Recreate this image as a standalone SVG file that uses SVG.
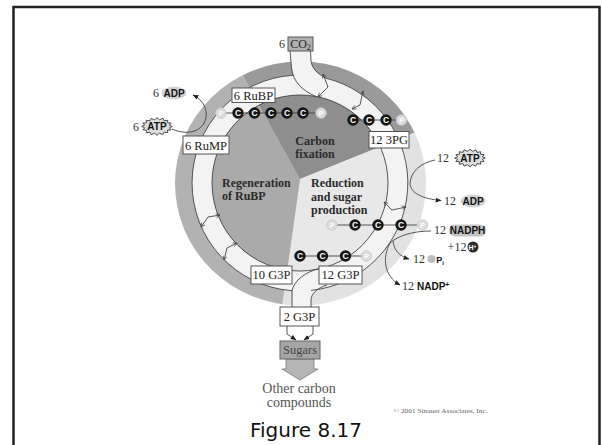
<svg xmlns="http://www.w3.org/2000/svg" xmlns:xlink="http://www.w3.org/1999/xlink" width="602" height="445" viewBox="0 0 602 445">
<style>
.box{fill:#fff;stroke:#555;stroke-width:1}
.bt{font-family:"Liberation Serif",serif;font-size:12.5px;fill:#222;text-anchor:middle}
.lab{font-family:"Liberation Serif",serif;font-weight:bold;font-size:12px;fill:#2a2a2a}
.num{font-family:"Liberation Serif",serif;font-size:12px;fill:#333;text-anchor:middle}
.chem{font-family:"Liberation Sans",sans-serif;font-weight:bold;font-size:10px;fill:#111;text-anchor:middle}
.ln{fill:none;stroke:#444;stroke-width:0.9}
.ct{font-family:"Liberation Sans",sans-serif;font-weight:bold;font-size:8.5px;fill:#fff;text-anchor:middle}
.pt{font-family:"Liberation Sans",sans-serif;font-weight:bold;font-size:7px;fill:#fff;text-anchor:middle}
</style>
<defs>
<clipPath id="outerClip"><ellipse cx="300.5" cy="183.5" rx="125.5" ry="122"/></clipPath>
<clipPath id="innerClip"><circle cx="300" cy="183" r="88"/></clipPath>
<marker id="ah" viewBox="0 0 10 10" refX="9" refY="5" markerUnits="userSpaceOnUse" markerWidth="6" markerHeight="6" orient="auto"><path d="M0,1 L10,5 L0,9 Z" fill="#222"/></marker>
<marker id="tk" viewBox="0 0 10 10" refX="9" refY="5" markerUnits="userSpaceOnUse" markerWidth="5" markerHeight="5" orient="auto-start-reverse"><path d="M1,1 L9,5 L1,9" fill="none" stroke="#444" stroke-width="1.5"/></marker>
<polygon id="star" points="17,0 13.73,1.66 15.71,4.21 11.64,4.72 12.02,7.78 7.78,7.07 6.51,10.16 2.73,8.34 0,11 -2.73,8.34 -6.51,10.16 -7.78,7.07 -12.02,7.78 -11.64,4.72 -15.71,4.21 -13.73,1.66 -17,0 -13.73,-1.66 -15.71,-4.21 -11.64,-4.72 -12.02,-7.78 -7.78,-7.07 -6.51,-10.16 -2.73,-8.34 0,-11 2.73,-8.34 6.51,-10.16 7.78,-7.07 12.02,-7.78 11.64,-4.72 15.71,-4.21 13.73,-1.66" fill="#dedede" stroke="#333" stroke-width="1"/>
<g id="cdot"><circle r="5.7" fill="#151515"/><text class="ct" y="3">C</text></g>
<g id="pdot"><circle r="5.3" fill="#dcdcdc" stroke="#c8c8c8" stroke-width="0.8"/><text class="pt" y="2.5">P</text></g>
</defs>

<rect x="13.5" y="7" width="586" height="445" fill="#fff" stroke="#222" stroke-width="2.5"/>

<g id="cycle-background">
  <g clip-path="url(#outerClip)">
    <path d="M300,179 L174,-48.4 L300,-81 L430,-46.2 L541.1,81.6 Z" fill="#9a9a9a"/>
    <path d="M300,179 L541.1,81.6 L560,179 L483.8,362.8 L300,439 L263.8,436.5 Z" fill="#e2e2e2"/>
    <path d="M300,179 L263.8,436.5 L116.2,362.8 L40,179 L74.8,49 L174,-48.4 Z" fill="#b2b2b2"/>
  </g>
  <path d="M192,183 a108,108 0 1,0 216,0 a108,108 0 1,0 -216,0 Z M212,183 a88,88 0 1,0 176,0 a88,88 0 1,0 -176,0 Z" fill="#f3f3f3" fill-rule="evenodd"/>
  <g clip-path="url(#innerClip)">
    <path d="M300,179 L174,-48.4 L300,-81 L430,-46.2 L541.1,81.6 Z" fill="#8e8e8e"/>
    <path d="M300,179 L541.1,81.6 L560,179 L483.8,362.8 L300,439 L263.8,436.5 Z" fill="#e8e8e8"/>
    <path d="M300,179 L263.8,436.5 L116.2,362.8 L40,179 L74.8,49 L174,-48.4 Z" fill="#aaaaaa"/>
  </g>
  <path d="M290,50 L311,50 L311,61 C312,69 318,74 326,78.2 L293.5,75.2 L291.5,68 Z" fill="#f3f3f3"/>
  <path d="M292,291 C294,280 306,272 319,268.5 L327,285 C317,288 311,294 311,300 L311,308 L292,308 Z" fill="#f3f3f3"/>
</g>

<g id="sector-labels">
  <text class="lab" x="315" y="144.5" style="text-anchor:middle">Carbon</text>
  <text class="lab" x="315" y="157.5" style="text-anchor:middle">fixation</text>
  <text class="lab" x="222" y="187">Regeneration</text>
  <text class="lab" x="222" y="200">of RuBP</text>
  <text class="lab" x="311" y="187">Reduction</text>
  <text class="lab" x="311" y="200.5">and sugar</text>
  <text class="lab" x="311" y="213.5">production</text>
</g>

<g id="connectors">
  <circle class="ln" cx="300" cy="183" r="88"/>
  <path class="ln" d="M326,78.2 A108,108 0 0,1 311,290.4"/>
  <path class="ln" d="M292,290.7 A108,108 0 0,1 293.5,75.2"/>
  <path class="ln" d="M290,51 L291.5,68 C293,82 303,91 316,96.5"/>
  <path class="ln" d="M310.5,51 L311,61 C312,69 318,74 326,78.2"/>
  <path class="ln" d="M319,268.5 C306,272 294,280 292,291 L292,308"/>
  <path class="ln" d="M327,285 C317,288 311,294 311,300 L311,308"/>
  <path class="ln" d="M323,74 L328,87 L318,97" marker-start="url(#tk)" marker-end="url(#tk)"/>
  <path class="ln" d="M363,91 L360,105 L352,109" marker-start="url(#tk)" marker-end="url(#tk)"/>
  <path class="ln" d="M384,202 L392,210 L406,207" marker-start="url(#tk)" marker-end="url(#tk)"/>
  <path class="ln" d="M201,227 L208,217 L220,215" marker-start="url(#tk)" marker-end="url(#tk)"/>
  <path class="ln" d="M224,260 L227,248 L237,243" marker-start="url(#tk)" marker-end="url(#tk)"/>
  <path class="ln" d="M172,129 C186,135 200,133 205,121 C209,110 203,100 193,95" marker-end="url(#ah)"/>
  <path class="ln" d="M435,160 C420,163 411,172 410,183 C410,193 423,199 441,200.5" marker-end="url(#ah)"/>
  <path class="ln" d="M431,231 C412,231 398,236 390,243"/>
  <path class="ln" d="M393,241 C394,250 399,256 409,259" marker-end="url(#ah)"/>
  <path class="ln" d="M390,243 C382,258 384,276 400,285" marker-end="url(#ah)"/>
  <path class="ln" d="M287,326 L287,334 L296,340" marker-end="url(#ah)"/>
  <path class="ln" d="M313,326 L313,334 L304,340" marker-end="url(#ah)"/>
  <line class="ln" x1="221" y1="113" x2="321" y2="113"/>
  <line class="ln" x1="353" y1="120" x2="401.5" y2="120"/>
  <line class="ln" x1="332" y1="225" x2="422.5" y2="225"/>
  <line class="ln" x1="300" y1="256" x2="366.5" y2="256"/>
  <path d="M286,359 L314,359 L314,369 L318,369 L300,380 L282,369 L286,369 Z" fill="#b5b5b5" stroke="#777" stroke-width="0.8"/>
</g>

<g id="chain-rubp">
  <use xlink:href="#pdot" x="221" y="113"/>
  <use xlink:href="#cdot" x="238" y="113"/>
  <use xlink:href="#cdot" x="254.5" y="113"/>
  <use xlink:href="#cdot" x="271" y="113"/>
  <use xlink:href="#cdot" x="287" y="113"/>
  <use xlink:href="#cdot" x="303" y="113"/>
  <use xlink:href="#pdot" x="321" y="113"/>
</g>
<g id="chain-3pg">
  <use xlink:href="#cdot" x="353" y="120"/>
  <use xlink:href="#cdot" x="369" y="120"/>
  <use xlink:href="#cdot" x="386" y="120"/>
  <use xlink:href="#pdot" x="401.5" y="120"/>
</g>
<g id="chain-bpg">
  <use xlink:href="#pdot" x="332" y="225"/>
  <use xlink:href="#cdot" x="355" y="225"/>
  <use xlink:href="#cdot" x="378" y="225"/>
  <use xlink:href="#cdot" x="401" y="225"/>
  <use xlink:href="#pdot" x="422.5" y="225"/>
</g>
<g id="chain-g3p">
  <use xlink:href="#cdot" x="300" y="256"/>
  <use xlink:href="#cdot" x="322.5" y="256"/>
  <use xlink:href="#cdot" x="345.5" y="256"/>
  <use xlink:href="#pdot" x="366.5" y="256"/>
</g>

<g id="co2">
  <text class="num" x="282" y="48">6</text>
  <rect x="288" y="37" width="25" height="14" fill="#b0b0b0" stroke="#555" stroke-width="1"/>
  <text class="bt" x="300.5" y="48" style="font-size:12px">CO<tspan style="font-size:8px" dy="2">2</tspan></text>
</g>
<g id="rubp"><rect class="box" x="232" y="88" width="43" height="14.5"/><text class="bt" x="253.5" y="99.5">6 RuBP</text></g>
<g id="rump"><rect class="box" x="183" y="136" width="46" height="18"/><text class="bt" x="206" y="149.5">6 RuMP</text></g>
<g id="pg3"><rect class="box" x="369" y="131.5" width="40" height="16.5"/><text class="bt" x="389" y="144">12 3PG</text></g>
<g id="g3p10"><rect class="box" x="251" y="266" width="41" height="18"/><text class="bt" x="271.5" y="279">10 G3P</text></g>
<g id="g3p12"><rect class="box" x="319" y="266" width="43" height="18"/><text class="bt" x="340.5" y="279">12 G3P</text></g>
<g id="g3p2"><rect class="box" x="280" y="307" width="39" height="19"/><text class="bt" x="299.5" y="321">2 G3P</text></g>
<g id="sugars"><rect x="280" y="341" width="40" height="18" fill="#a6a6a6" stroke="#666" stroke-width="1"/><text class="bt" x="300" y="354" style="fill:#444">Sugars</text></g>
<g id="other">
  <text class="bt" x="299" y="393" style="font-size:14px;fill:#555">Other carbon</text>
  <text class="bt" x="299" y="407" style="font-size:14px;fill:#555">compounds</text>
</g>

<g id="adp-left">
  <text class="num" x="156" y="97">6</text>
  <ellipse cx="174" cy="93" rx="12.5" ry="6.5" fill="#d2d2d2"/>
  <text class="chem" x="174" y="96.5">ADP</text>
</g>
<g id="atp-left">
  <text class="num" x="136" y="131">6</text>
  <use xlink:href="#star" transform="translate(157,126.5) scale(0.9,0.8)"/>
  <text class="chem" x="157" y="130">ATP</text>
</g>
<g id="atp-right">
  <text class="num" x="443" y="162">12</text>
  <use xlink:href="#star" transform="translate(470,158) scale(0.9,0.8)"/>
  <text class="chem" x="470" y="161.5">ATP</text>
</g>
<g id="adp-right">
  <text class="num" x="450" y="204.5">12</text>
  <ellipse cx="473" cy="201" rx="12.5" ry="6.5" fill="#d2d2d2"/>
  <text class="chem" x="473" y="204.5">ADP</text>
</g>
<g id="nadph">
  <text class="num" x="440" y="234">12</text>
  <rect x="449" y="224.5" width="37" height="12" rx="6" fill="#c4c4c4"/>
  <text class="chem" x="467.5" y="234">NADPH</text>
</g>
<g id="hplus">
  <text class="num" x="457" y="251">+12</text>
  <circle cx="473" cy="247" r="5.5" fill="#2a2a2a"/>
  <text class="chem" x="472.5" y="249.5" style="font-size:7px;fill:#fff">H<tspan style="font-size:5px" dy="-2">+</tspan></text>
</g>
<g id="pi">
  <text class="num" x="419" y="263">12</text>
  <circle cx="431.5" cy="259" r="4" fill="#bdbdbd"/>
  <text class="chem" x="440" y="263" style="font-size:9px">P<tspan style="font-size:6px" dy="1.5">i</tspan></text>
</g>
<g id="nadp">
  <text class="num" x="408" y="290">12</text>
  <text class="chem" x="417" y="290" style="text-anchor:start">NADP<tspan style="font-size:7px" dy="-3">+</tspan></text>
</g>

<text x="250" y="437" font-family="DejaVu Sans, sans-serif" font-size="20" fill="#111">Figure 8.17</text>
<text x="393.5" y="413" font-family="Liberation Serif, serif" font-size="6.2" fill="#666" textLength="94" lengthAdjust="spacingAndGlyphs">© 2001 Sinauer Associates, Inc.</text>
</svg>
